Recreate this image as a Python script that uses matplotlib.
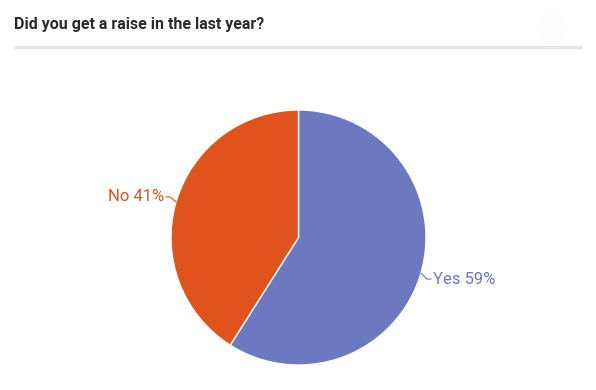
import numpy as np
import matplotlib.pyplot as plt
from matplotlib.patches import Circle

title = 'Did you get a raise in the last year?'
labels = ['Yes', 'No']
values = [59, 41]
colors = ['#6c78c0', '#e0531c']

W, H = 596, 390
fig = plt.figure(figsize=(W / 100, H / 100), dpi=100)
ax = fig.add_axes([0, 0, 1, 1])

cx, cy, r = 298.5, H - 237.5, 127.5
wedges, _ = ax.pie(values, colors=colors, startangle=90, counterclock=False,
                   center=(cx, cy), radius=r, frame=True,
                   wedgeprops=dict(edgecolor='white', linewidth=1))
ax.set_xlim(0, W)
ax.set_ylim(0, H)
ax.set_aspect('equal')
ax.axis('off')

total = sum(values)
start = 90
for lab, v, c in zip(labels, values, colors):
    mid = np.deg2rad(start - v / total * 180)
    start -= v / total * 360
    x0, y0 = cx + r * np.cos(mid), cy + r * np.sin(mid)
    side = 1 if np.cos(mid) > 0 else -1
    x1, y1 = x0 + side * 6, y0 + (-6 if side > 0 else 5)
    x2 = x1 + side * 4
    ax.plot([x0, x1, x2], [y0, y1, y1], color=c, lw=0.8)
    ax.text(x2 + side * 2, y1, f'{lab} {v}%', color=c, fontsize=12,
            family='Roboto', ha='left' if side > 0 else 'right', va='center')

# header
fig.text(14 / W, 1 - 25 / H, title, fontsize=11.5, fontweight='bold',
         family='Roboto', color='#2b2b2b', va='center')
ax.plot([14, 582], [H - 46.5, H - 46.5], color='#e6e6e6', lw=2.5,
        solid_capstyle='butt')
ax.add_patch(Circle((552, H - 28), 16, color='#fdfdfd', lw=0))

fig.savefig('out.png', dpi=100)
